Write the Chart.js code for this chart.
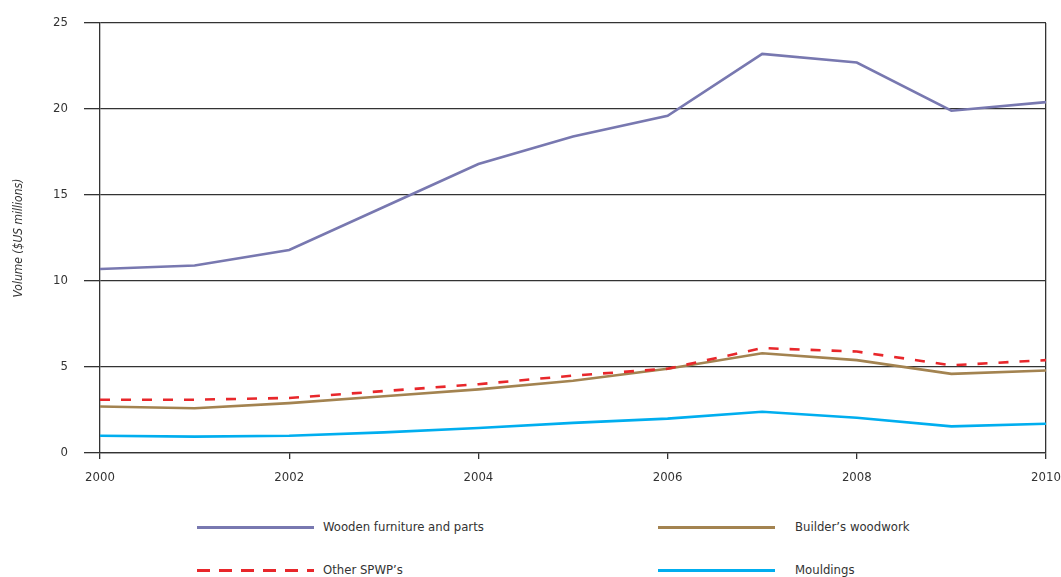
<!DOCTYPE html>
<html>
<head>
<meta charset="utf-8">
<script src="https://cdn.jsdelivr.net/npm/chart.js@4/dist/chart.umd.min.js"></script>
<style>
  body { margin: 0; background: #fff; }
  #wrap { position: relative; width: 1061px; height: 577px; }
  #box { position: absolute; left: 0; top: 0; width: 1061px; height: 500px; }
  .leg { position: absolute; font-family: "DejaVu Sans Condensed", "Liberation Sans Narrow", sans-serif;
         font-size: 13px; color: #333; line-height: 16px; }
  .sw { position: absolute; height: 3px; }
</style>
</head>
<body>
<div id="wrap">
  <div id="box"><canvas id="chart"></canvas></div>
  <div id="legend"></div>
</div>
<script>

// DATA

const years = [2000, 2001, 2002, 2003, 2004, 2005, 2006, 2007, 2008, 2009, 2010];

const furniture = [10.7, 10.9, 11.8, 14.3, 16.8, 18.4, 19.6, 23.2, 22.7, 19.9, 20.4];
const builders  = [2.7, 2.6, 2.9, 3.3, 3.7, 4.2, 4.9, 5.8, 5.4, 4.6, 4.8];
const otherSpwp = [3.1, 3.1, 3.2, 3.6, 4.0, 4.5, 4.9, 6.1, 5.9, 5.1, 5.4];
const mouldings = [1.0, 0.95, 1.0, 1.2, 1.45, 1.75, 2.0, 2.4, 2.05, 1.55, 1.7];

const seriesNames = ["Wooden furniture and parts", "Builder\u2019s woodwork", "Other SPWP\u2019s", "Mouldings"];
const yTicks = [0, 5, 10, 15, 20, 25];

const font = "'DejaVu Sans Condensed', 'Liberation Sans Narrow', sans-serif";

function pts(vals) {
    return years.map((yr, i) => ({ x: yr, y: vals[i] }));
}

const styles = [
    { color: "#7878b0", dash: [] },
    { color: "#a38350", dash: [] },
    { color: "#e8272b", dash: [10, 11] },
    { color: "#00aeef", dash: [] }
];

const allSeries = [furniture, builders, otherSpwp, mouldings];

// red dashed drawn on top
const datasets = allSeries.map((vals, i) => ({
    label: seriesNames[i],
    data: pts(vals),
    borderColor: styles[i].color,
    borderWidth: 2.6,
    borderDash: styles[i].dash,
    pointRadius: 0,
    tension: 0,
    order: i === 2 ? 0 : 1
}));

new Chart(document.getElementById("chart"), {

    type: "line",

    data: { datasets: datasets },

    options: {

        responsive: true,
        maintainAspectRatio: false,
        animation: false,

        layout: { padding: { top: 23, right: 15, left: 0, bottom: 0 } },

        plugins: {
            legend: { display: false },
            tooltip: { enabled: false }
        },

        scales: {

            x: {
                type: "linear",
                min: years[0],
                max: years[years.length - 1],
                afterBuildTicks: (scale) => {
                    scale.ticks = years.filter(y => y % 2 === 0).map(v => ({ value: v }));
                },
                ticks: {
                    color: "#333",
                    font: { family: font, size: 13 },
                    padding: 11,
                    maxRotation: 0,
                    callback: (v) => String(v)
                },
                grid: {
                    color: (c) => c.tick && c.tick.value === years[years.length - 1] ? "#333" : "rgba(0,0,0,0)",
                    tickColor: "#333",
                    tickLength: 6,
                    lineWidth: 1.3
                },
                border: { display: true, color: "#333", width: 1.3 },
                afterFit: (scale) => {
                    scale.height = 47;
                    scale.paddingLeft = 0;
                    scale.paddingRight = 0;
                }
            },

            y: {
                min: 0,
                max: 25,
                afterBuildTicks: (scale) => {
                    scale.ticks = yTicks.map(v => ({ value: v }));
                },
                ticks: {
                    color: "#333",
                    font: { family: font, size: 13 },
                    padding: 16
                },
                grid: {
                    color: "#333",
                    tickLength: 16,
                    lineWidth: 1.3
                },
                border: { display: true, color: "#333", width: 1.3 },
                title: {
                    display: true,
                    text: "Volume ($US millions)",
                    color: "#333",
                    font: { family: font, size: 12, style: "italic" },
                    padding: { top: 12, bottom: 0 }
                },
                afterFit: (scale) => {
                    scale.width = 100;
                    scale.paddingTop = 0;
                    scale.paddingBottom = 0;
                }
            }

        }

    }

});


// LEGEND

const legendPos = [
    { lx: 197, tx: 323, y: 527 },
    { lx: 658, tx: 795, y: 527 },
    { lx: 197, tx: 323, y: 570 },
    { lx: 658, tx: 795, y: 570 }
];

const legend = document.getElementById("legend");

seriesNames.forEach((name, i) => {

    const p = legendPos[i];

    const sw = document.createElement("div");
    sw.className = "sw";
    sw.style.left = p.lx + "px";
    sw.style.top = (p.y - 1) + "px";
    sw.style.width = "117px";
    sw.style.background = i === 2
        ? "repeating-linear-gradient(to right, " + styles[i].color + " 0 13px, transparent 13px 22px)"
        : styles[i].color;
    legend.appendChild(sw);

    const t = document.createElement("div");
    t.className = "leg";
    t.style.left = p.tx + "px";
    t.style.top = (p.y - 8) + "px";
    t.textContent = name;
    legend.appendChild(t);

});

</script>
</body>
</html>
